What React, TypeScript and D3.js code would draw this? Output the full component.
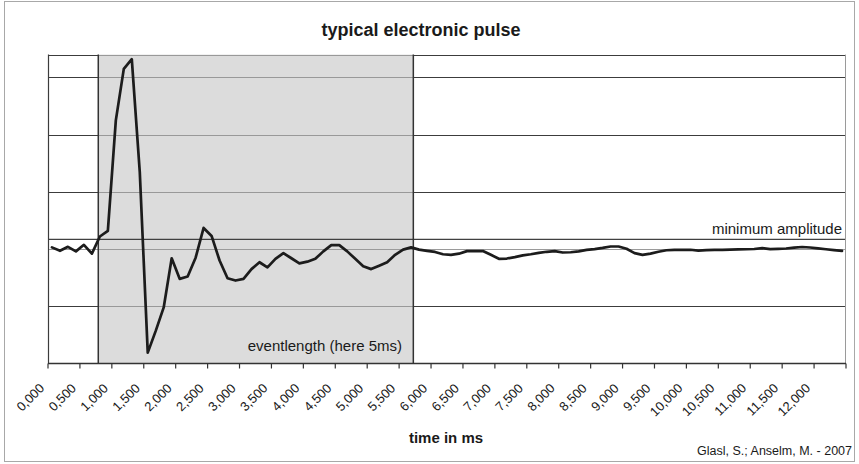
import React from "react";
import * as d3 from "d3";

const W = 859;
const H = 464;

// sampling of the pulse (ms between samples)
const sampleStepMs = 0.125;

// pulse amplitude, one value per sample (arbitrary units, 0 = baseline)
const amplitude = [
  0.03, -0.03, 0.04, -0.04, 0.075, -0.08, 0.22, 0.32, 2.25, 3.15,
  3.32, 1.35, -1.81, -1.43, -1.02, -0.16, -0.52, -0.48, -0.15, 0.37,
  0.23, -0.2, -0.51, -0.55, -0.52, -0.35, -0.23, -0.32, -0.17, -0.07,
  -0.16, -0.25, -0.22, -0.17, -0.04, 0.07, 0.07, -0.04, -0.17, -0.3,
  -0.35, -0.29, -0.23, -0.1, -0.01, 0.03, -0.01, -0.03, -0.05, -0.09,
  -0.1, -0.08, -0.035, -0.035, -0.035, -0.1, -0.17, -0.165, -0.14, -0.11,
  -0.09, -0.065, -0.047, -0.035, -0.06, -0.055, -0.04, -0.015, 0.0, 0.02,
  0.045, 0.045, 0.005, -0.07, -0.1, -0.08, -0.047, -0.02, -0.012, -0.012,
  -0.012, -0.026, -0.017, -0.012, -0.012, -0.01, -0.005, -0.003, 0.002, 0.016,
  0.0, 0.005, 0.01, 0.026, 0.037, 0.028, 0.014, -0.003, -0.017, -0.03,
];

const tickValuesMs = [
  0, 0.5, 1, 1.5, 2, 2.5, 3, 3.5, 4, 4.5, 5, 5.5, 6, 6.5, 7, 7.5, 8, 8.5, 9,
  9.5, 10, 10.5, 11, 11.5, 12,
];
const tickLabels = [
  "0,000", "0,500", "1,000", "1,500", "2,000", "2,500", "3,000", "3,500",
  "4,000", "4,500", "5,000", "5,500", "6,000", "6,500", "7,000", "7,500",
  "8,000", "8,500", "9,000", "9,500", "10,000", "10,500", "11,000", "11,500",
  "12,000",
];

const yDomain = [-2, 3.4];
const gridValues = [-1, 1, 2, 3];
const zeroLevel = 0;
const minAmplitude = 0.17;
const eventStartMs = 0.725;
const eventEndMs = 5.66;

const titleText = "typical electronic pulse";
const xAxisTitle = "time in ms";
const creditText = "Glasl, S.; Anselm, M. - 2007";
const minAmpLabel = "minimum amplitude";
const eventLabel = "eventlength (here 5ms)";

const FONT = "'Liberation Sans', Arial, Helvetica, sans-serif";

export default function App() {
  const plot = { left: 48, right: 846, top: 54.6, bottom: 363.5 };
  const half = sampleStepMs / 2;
  const x = d3
    .scaleLinear()
    .domain([-half, (amplitude.length - 0.5) * sampleStepMs])
    .range([plot.left, plot.right]);
  const y = d3.scaleLinear().domain(yDomain).range([plot.bottom, plot.top]);

  const line = d3
    .line<number>()
    .x((_, i) => x(i * sampleStepMs))
    .y((d) => y(d))
    .curve(d3.curveLinear);

  const tickPositions = tickValuesMs.map((t) => x(t - half));
  tickPositions.push(plot.right);

  const xs = x(eventStartMs);
  const xe = x(eventEndMs);

  return (
    <svg
      width={W}
      height={H}
      style={{ position: "absolute", left: 0, top: 0, background: "#fff" }}
      fontFamily={FONT}
    >
      <rect x={0} y={0} width={W} height={H} fill="#fff" />
      {/* chart area border */}
      <rect x={4.5} y={1.5} width={850} height={460} fill="none" stroke="#a8a8a8" strokeWidth={1} />

      {/* title */}
      <text x={421} y={36} textAnchor="middle" fontSize={18} fontWeight="bold" fill="#1a1a1a">
        {titleText}
      </text>

      {/* plot background */}
      <rect x={plot.left} y={plot.top} width={plot.right - plot.left} height={plot.bottom - plot.top} fill="#fff" />

      {/* gridlines */}
      {gridValues.map((v) => (
        <line key={v} x1={plot.left} x2={plot.right} y1={Math.round(y(v)) + 0.5} y2={Math.round(y(v)) + 0.5} stroke="#3c3c3c" strokeWidth={1} />
      ))}
      <line x1={plot.left} x2={plot.right} y1={Math.round(plot.top) + 0.5} y2={Math.round(plot.top) + 0.5} stroke="#3c3c3c" strokeWidth={1} />

      {/* event shading */}
      <rect x={xs} y={plot.top} width={xe - xs} height={plot.bottom - plot.top} fill="rgb(202,202,202)" fillOpacity={0.66} />

      {/* zero line */}
      <line x1={plot.left} x2={plot.right} y1={Math.round(y(zeroLevel)) + 0.5} y2={Math.round(y(zeroLevel)) + 0.5} stroke="#9a9a9a" strokeWidth={1} />
      {/* minimum amplitude line */}
      <line x1={plot.left} x2={plot.right} y1={y(minAmplitude)} y2={y(minAmplitude)} stroke="#404040" strokeWidth={1.3} />

      {/* plot borders */}
      <line x1={plot.right - 0.5} x2={plot.right - 0.5} y1={plot.top} y2={plot.bottom} stroke="#9a9a9a" strokeWidth={1} />
      <line x1={plot.left + 0.5} x2={plot.left + 0.5} y1={plot.top} y2={plot.bottom} stroke="#3c3c3c" strokeWidth={1.2} />

      {/* event boundaries */}
      <line x1={xs} x2={xs} y1={plot.top} y2={plot.bottom} stroke="#333" strokeWidth={1.5} />
      <line x1={xe} x2={xe} y1={plot.top} y2={plot.bottom} stroke="#333" strokeWidth={1.5} />

      {/* x axis */}
      <line x1={plot.left} x2={plot.right} y1={plot.bottom} y2={plot.bottom} stroke="#333" strokeWidth={1.3} />
      {tickPositions.map((p, i) => (
        <line key={i} x1={p} x2={p} y1={plot.bottom} y2={plot.bottom + 5} stroke="#333" strokeWidth={1.2} />
      ))}
      {tickLabels.map((lab, i) => {
        const px = tickPositions[i] - 3;
        const py = 389;
        return (
          <text key={lab} x={px} y={py} textAnchor="end" fontSize={13} fill="#1a1a1a" transform={`rotate(-45 ${px} ${py})`}>
            {lab}
          </text>
        );
      })}

      {/* data */}
      <path d={line(amplitude) || ""} fill="none" stroke="#1c1c1c" strokeWidth={2.7} strokeLinejoin="round" strokeLinecap="round" />

      {/* annotations */}
      <text x={842} y={234.3} textAnchor="end" fontSize={15} fill="#1a1a1a">
        {minAmpLabel}
      </text>
      <text x={402} y={351} textAnchor="end" fontSize={15} fill="#1a1a1a">
        {eventLabel}
      </text>

      <text x={446} y={443} textAnchor="middle" fontSize={15} fontWeight="bold" fill="#1a1a1a">
        {xAxisTitle}
      </text>
      <text x={852} y={455} textAnchor="end" fontSize={12.5} fill="#1a1a1a">
        {creditText}
      </text>
    </svg>
  );
}
